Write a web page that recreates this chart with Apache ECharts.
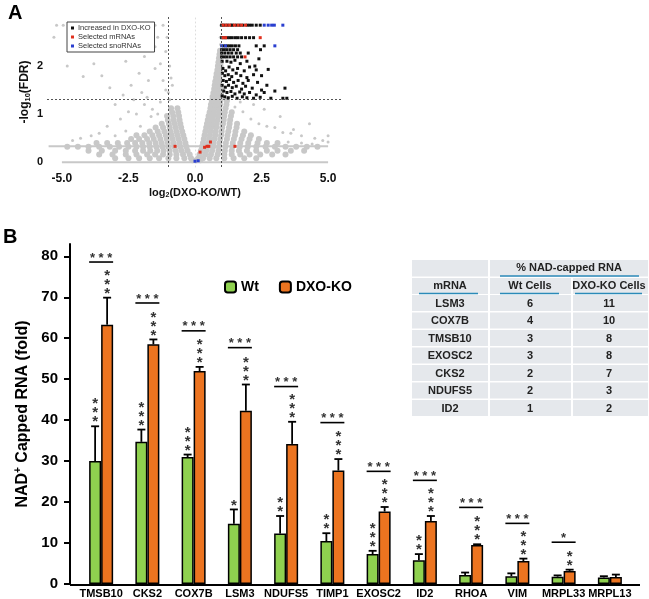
<!DOCTYPE html>
<html><head><meta charset="utf-8">
<script src="https://cdn.jsdelivr.net/npm/echarts@6/dist/echarts.min.js"></script>
<style>html,body{margin:0;padding:0;background:#fff}#c{width:649px;height:599px}</style>
</head><body><div id="c"></div>
<script>
// ================= Panel A : volcano plot =================
const volcanoXTicks = [-5, -2.5, 0, 2.5, 5];
const volcanoYTicks = [0, 1, 2];
const fcCutoffs = [-1, 1];
const fdrCutoff = 1.3;
// dense gray rows: [y, [x...]]
const grayCoreRows = [
 [0.04, [-0.1,0.05,0.2]],
 [0.08, [-0.15,-0.4,-0.7,-1.0,-1.35,-1.7,-2.1,-2.5,-3.0,0.12,0.3,0.55,0.8,1.1,1.45,1.85,2.3]],
 [0.16, [-0.2,-0.45,-0.7,-0.95,-1.2,-1.5,-1.8,-2.2,-2.6,-3.1,-3.6,0.17,0.38,0.6,0.85,1.1,1.38,1.7,2.05,2.45,2.9,3.4]],
 [0.24, [-0.28,-0.5,-0.72,-0.95,-1.18,-1.42,-1.68,-1.95,-2.25,-2.6,-3.0,-3.5,-4.0,0.22,0.42,0.64,0.88,1.12,1.38,1.65,1.95,2.3,2.7,3.1,3.6,4.1]],
 [0.32, [-0.32,-0.55,-0.78,-1.0,-1.22,-1.45,-1.7,-1.95,-2.2,-2.5,-2.85,-3.2,-3.6,-4.0,-4.4,-4.8,0.26,0.46,0.68,0.9,1.14,1.4,1.68,1.98,2.3,2.65,3.0,3.4,3.8,4.2,4.6]],
 [0.40, [-0.36,-0.58,-0.8,-1.02,-1.25,-1.48,-1.72,-1.98,-2.25,-2.55,-2.9,-3.3,-3.7,0.3,0.5,0.7,0.92,1.16,1.42,1.7,2.0,2.35,2.7,3.1]],
 [0.48, [-0.4,-0.62,-0.84,-1.06,-1.3,-1.55,-1.8,-2.1,-2.4,0.33,0.53,0.73,0.95,1.2,1.46,1.75,2.05,2.4]],
 [0.56, [-0.44,-0.66,-0.88,-1.1,-1.35,-1.6,-1.9,-2.2,0.36,0.56,0.76,0.98,1.22,1.5,1.8,2.1]],
 [0.64, [-0.48,-0.7,-0.92,-1.15,-1.4,-1.7,0.39,0.58,0.78,1.0,1.25,1.52,1.85]],
 [0.72, [-0.52,-0.73,-0.95,-1.2,-1.48,0.42,0.61,0.8,1.02,1.28,1.56]],
 [0.80, [-0.55,-0.76,-0.98,-1.25,0.45,0.63,0.82,1.05,1.3,1.58]],
 [0.88, [-0.58,-0.8,-1.02,0.48,0.66,0.85,1.08,1.32]],
 [0.96, [-0.6,-0.82,-1.05,0.51,0.69,0.88,1.1,1.35]],
 [1.04, [-0.63,-0.86,0.55,0.72,0.9,1.12,1.38]],
 [1.12, [-0.66,-0.9,0.58,0.75,0.92,1.15]],
 [1.20, [0.6,0.77,0.94,1.18]],
 [1.28, [0.63,0.8,0.96,1.2]],
 [1.36, [0.66,0.82,0.97]],
 [1.44, [0.69,0.84,0.98]],
 [1.52, [0.72,0.86,0.98]],
 [1.60, [0.74,0.88]],
 [1.68, [0.76,0.9]],
 [1.76, [0.79,0.92]],
 [1.84, [0.81,0.93]],
 [1.92, [0.84,0.95]],
 [2.00, [0.86,0.96]],
 [2.08, [0.88,0.97]],
 [2.16, [0.9]],
 [2.24, [0.92]],
 [2.32, [0.94]]
];
const graySparse = [
 [-0.95,1.3],[-1.0,1.45],[-0.85,1.6],[-0.9,1.75],[-1.1,1.5],[-1.3,1.25],[-1.6,1.1],[-1.9,1.2],[-2.2,1.0],[-2.5,1.05],
 [-2.8,0.9],[-2.0,1.45],[-2.4,1.6],[-1.75,1.7],[-1.5,1.95],[-2.1,1.85],[-2.7,1.4],[-3.0,1.2],[-3.3,0.75],[-3.6,0.6],
 [-3.9,0.55],[-4.3,0.5],[-4.6,0.45],[-3.2,1.55],[-3.5,1.8],[-4.2,1.78],[-4.8,2.0],[-1.3,2.05],[-1.1,2.3],[-1.5,2.4],
 [-1.05,2.6],[-1.4,2.6],[-1.2,2.85],[-1.5,2.85],[-5.2,2.85],[-4.95,2.85],[-5.3,2.6],[-1.9,2.2],[-2.6,2.1],[-3.8,2.05],
 [-0.95,2.0],[-1.2,1.7],[-1.8,1.35],[-2.3,1.3],[-1.65,0.95],[-2.05,0.75],[-2.6,0.65],[-3.0,0.55],[-1.4,1.0],
 [1.5,1.15],[1.8,1.05],[2.1,0.9],[2.4,0.8],[2.7,0.75],[3.0,0.72],[3.3,0.62],[3.6,0.6],[4.0,0.55],[4.5,0.5],[4.8,0.45],
 [3.2,0.95],[3.7,0.68],[2.2,1.2],[1.7,1.25],[2.6,1.1],[4.3,0.8],[5.0,0.42],[5.0,0.55],[3.5,0.42],[4.0,0.4],[4.4,0.38],
 [0.97,2.85],[0.95,2.6],[0.96,2.45]
];
const grayZeroRow = [[-5,0],[5,0]];
const grayBandRow = [[-5.5,0.33],[5,0.33]];
const increasedKO = [
 [1.0,2.85],[1.1,2.85],[1.22,2.85],[1.35,2.85],[1.42,2.85],[1.55,2.85],[1.68,2.85],[1.8,2.85],[1.95,2.85],[2.05,2.85],[2.15,2.85],[2.3,2.85],[2.45,2.85],
 [1.0,2.59],[1.1,2.59],[1.2,2.59],[1.3,2.59],[1.4,2.59],[1.52,2.59],[1.62,2.59],[1.75,2.59],[1.9,2.59],[2.05,2.59],[2.2,2.59],
 [1.08,2.42],[1.2,2.42],[1.3,2.42],[1.4,2.42],[1.52,2.42],[1.65,2.42],[2.3,2.42],[2.6,2.42],
 [1.0,2.34],[1.1,2.34],[1.2,2.34],[1.32,2.34],[1.45,2.34],[1.6,2.34],[2.46,2.34],
 [1.0,2.27],[1.12,2.27],[1.25,2.27],[1.38,2.27],[1.55,2.27],[1.7,2.27],[2.0,2.27],
 [1.0,2.19],[1.1,2.19],[1.2,2.19],[1.32,2.19],[1.45,2.19],[1.6,2.19],[1.75,2.19],
 [1.02,2.1],[1.2,2.1],[1.35,2.08],[1.5,2.12],[1.7,2.05],[1.95,2.1],[2.25,2.0],[2.4,2.15],
 [1.05,1.95],[1.15,1.9],[1.28,1.98],[1.42,1.92],[1.6,1.95],[1.85,1.9],[2.05,1.98],[2.3,1.92],[2.75,1.93],
 [1.03,1.85],[1.12,1.8],[1.25,1.82],[1.38,1.78],[1.55,1.85],[1.72,1.8],[1.95,1.76],[2.2,1.82],[2.5,1.8],
 [1.06,1.7],[1.18,1.68],[1.3,1.72],[1.45,1.66],[1.62,1.7],[1.8,1.64],[2.0,1.7],[2.35,1.66],[2.7,1.6],[3.38,1.54],
 [1.02,1.6],[1.14,1.56],[1.26,1.6],[1.4,1.55],[1.55,1.58],[1.75,1.52],[1.9,1.58],[2.15,1.54],[2.5,1.5],
 [1.08,1.48],[1.2,1.45],[1.35,1.47],[1.5,1.42],[1.68,1.46],[1.85,1.42],[2.05,1.45],[2.3,1.4],[2.6,1.45],[3.0,1.48],
 [1.02,1.38],[1.12,1.36],[1.25,1.34],[1.4,1.37],[1.58,1.33],[1.78,1.36],[1.95,1.34],[2.2,1.33],[2.45,1.35],[2.85,1.33],[3.3,1.33],[3.45,1.33]
];
const selectedMRNAs = [
 [-0.75,0.33],[0.19,0.21],[0.36,0.31],[0.45,0.33],[0.52,0.33],[0.58,0.42],[1.5,0.33],
 [1.05,2.85],[1.17,2.85],[1.3,2.85],[1.48,2.85],[1.62,2.85],[1.75,2.85],[1.9,2.85],
 [1.05,2.59],[1.15,2.59],[2.45,2.59],[1.88,2.19]
];
const selectedSnoRNAs = [
 [0.0,0.02],[0.12,0.03],[2.6,2.85],[2.75,2.85],[2.88,2.85],[2.98,2.85],[3.3,2.85],[3.0,2.42],[1.0,2.42],[1.15,2.42]
];

// ================= Panel B : bar chart =================
const categories = ['TMSB10','CKS2','COX7B','LSM3','NDUFS5','TIMP1','EXOSC2','ID2','RHOA','VIM','MRPL33','MRPL13'];
const wtValues = [30.0, 34.7, 31.0, 14.7, 12.3, 10.5, 7.3, 5.8, 2.2, 1.9, 1.8, 1.6];
const wtErrors = [8.5, 3.0, 0.6, 3.5, 4.3, 1.9, 0.8, 1.5, 0.6, 0.7, 0.3, 0.3];
const koValues = [63.3, 58.5, 52.0, 42.3, 34.2, 27.7, 17.7, 15.4, 9.5, 5.6, 3.2, 1.7];
const koErrors = [6.6, 1.2, 1.0, 6.4, 5.4, 2.8, 1.1, 1.2, 0.2, 0.6, 0.3, 0.6];
const wtStars = [3, 3, 3, 1, 2, 2, 3, 2, 0, 0, 0, 0];
const koStars = [3, 3, 3, 3, 3, 3, 3, 3, 3, 3, 2, 0];
const pairLevels = [78.6, 68.6, 61.8, 57.7, 48.2, 39.4, 27.5, 25.3, 18.7, 14.8, 10.2, null];
const pairStars = [3, 3, 3, 3, 3, 3, 3, 3, 3, 3, 1, 0];
const barYTicks = [0, 10, 20, 30, 40, 50, 60, 70, 80];

// table
const tableGenes = ['LSM3','COX7B','TMSB10','EXOSC2','CKS2','NDUFS5','ID2'];
const tableWt = [6, 4, 3, 3, 2, 2, 1];
const tableKO = [11, 10, 8, 8, 7, 3, 2];

// ---------------------------------------------------------
const FONT = 'Liberation Sans, Arial, sans-serif';
const GRAY = '#c8c8c8';
const GREEN = '#8fd14f';
const ORANGE = '#ec7420';
const BAR_W = 12;

const grayCore = [];
grayCoreRows.forEach(r => r[1].forEach(x => grayCore.push([x, r[0]])));

function errRender(side) {
  return function (params, api) {
    const i = api.value(0), lo = api.value(1), hi = api.value(2);
    const p0 = api.coord([i, lo]), p1 = api.coord([i, hi]);
    const x = p0[0] + side * BAR_W / 2;
    return { type: 'group', children: [
      { type: 'line', shape: { x1: x, y1: p0[1], x2: x, y2: p1[1] }, style: { stroke: '#000', lineWidth: 1.8 } },
      { type: 'line', shape: { x1: x - 4, y1: p1[1], x2: x + 4, y2: p1[1] }, style: { stroke: '#000', lineWidth: 1.8 } }
    ]};
  };
}
function starRender(side) {
  return function (params, api) {
    const i = api.value(0), top = api.value(1), n = api.value(2);
    const p = api.coord([i, top]);
    const x = p[0] + side * BAR_W / 2;
    const ch = [];
    for (let k = 0; k < n; k++) {
      ch.push({ type: 'text', x: x, y: p[1] - 4 - 9 * k,
        style: { text: '*', fontSize: 15, fontWeight: 'bold', fontFamily: FONT, fill: '#333', align: 'center', verticalAlign: 'middle' } });
    }
    return { type: 'group', children: ch };
  };
}
function pairRender(params, api) {
  const i = api.value(0), lvl = api.value(1), n = api.value(2);
  const p = api.coord([i, lvl]);
  const txt = n === 3 ? '* * *' : '*';
  return { type: 'group', children: [
    { type: 'line', shape: { x1: p[0] - BAR_W, y1: p[1], x2: p[0] + BAR_W, y2: p[1] }, style: { stroke: '#000', lineWidth: 1.6 } },
    { type: 'text', x: p[0], y: p[1] - 4, style: { text: txt, fontSize: 13, fontWeight: 'bold', fontFamily: FONT, fill: '#333', align: 'center', verticalAlign: 'middle' } }
  ]};
}

// table graphic
const tCols = [[412, 488], [490, 571], [573, 648]];
const tRowTop = 295, tPitch = 17.5, tRowH = 16;
const CELL = '#e5e8ec', BLUE = '#2b8ab8', TXT = '#222';
const tableEls = [];
function cell(x1, x2, y1, h) { tableEls.push({ type: 'rect', shape: { x: x1, y: y1, width: x2 - x1, height: h }, style: { fill: CELL } }); }
function ttext(t, x, y) { tableEls.push({ type: 'text', x: x, y: y, style: { text: String(t), fontSize: 11, fontWeight: 'bold', fontFamily: FONT, fill: TXT, align: 'center', verticalAlign: 'middle' } }); }
function bline(x1, x2, y) { tableEls.push({ type: 'line', shape: { x1: x1, y1: y, x2: x2, y2: y }, style: { stroke: BLUE, lineWidth: 1.5 } }); }
cell(412, 488, 260, 16.5); cell(490, 648, 260, 16.5);
tCols.forEach(c => cell(c[0], c[1], 278, 16));
ttext('% NAD-capped RNA', 569, 267.5); bline(500, 639, 276);
ttext('mRNA', 450, 285.5); bline(419, 478, 293.5);
ttext('Wt Cells', 530, 285.5); bline(500, 559, 293.5);
ttext('DXO-KO Cells', 609, 285.5); bline(575, 642, 293.5);
tableGenes.forEach((g, r) => {
  const y = tRowTop + r * tPitch;
  tCols.forEach(c => cell(c[0], c[1], y, tRowH));
  ttext(g, 450, y + 8.5); ttext(tableWt[r], 530, y + 8.5); ttext(tableKO[r], 609, y + 8.5);
});

const chart = echarts.init(document.getElementById('c'), null, { renderer: 'canvas' });
const option = {
  animation: false,
  backgroundColor: '#fff',
  textStyle: { fontFamily: FONT },
  grid: [
    { left: 47, right: 306, top: 17, bottom: 432 },
    { left: 78, right: 16, top: 244, bottom: 14 }
  ],
  legend: [
    { data: ['Increased in DXO-KO', 'Selected mRNAs', 'Selected snoRNAs'], orient: 'vertical', left: 67, top: 22,
      itemWidth: 3, itemHeight: 3, itemGap: 1, icon: 'rect', padding: [2, 4, 2, 4], borderColor: '#444', borderWidth: 1,
      backgroundColor: '#fff', selectedMode: false,
      textStyle: { fontSize: 7.5, lineHeight: 8, color: '#333', fontFamily: FONT, padding: [0, 0, 0, -1] } },
    { data: ['Wt', 'DXO-KO'], left: 219, top: 275, itemWidth: 11, itemHeight: 11, itemGap: 20, selectedMode: false,
      textStyle: { fontSize: 14, fontWeight: 'bold', color: '#000', fontFamily: FONT } }
  ],
  xAxis: [
    { type: 'value', gridIndex: 0, min: -5.56, max: 5.56, splitLine: { show: false }, axisTick: { show: false },
      axisLine: { show: false },
      axisLabel: { customValues: volcanoXTicks, formatter: v => v.toFixed(1), fontSize: 12, fontWeight: 'bold', color: '#111', margin: 6 },
      name: 'log{sub|2}(DXO-KO/WT)', nameLocation: 'middle', nameGap: 19,
      nameTextStyle: { fontSize: 11, fontWeight: 'bold', color: '#111', rich: { sub: { fontSize: 7, fontWeight: 'bold', padding: [6, 0, 0, 0] } } } },
    { type: 'category', gridIndex: 1, data: categories, axisLine: { show: false }, axisTick: { show: false },
      axisLabel: { interval: 0, fontSize: 11, fontWeight: 'bold', color: '#000', margin: 4 } }
  ],
  yAxis: [
    { type: 'value', gridIndex: 0, min: -0.1, max: 3.02, splitLine: { show: false }, axisTick: { show: false },
      axisLine: { show: true, lineStyle: { color: '#ddd', type: [1, 3] } },
      axisLabel: { customValues: volcanoYTicks, fontSize: 11, fontWeight: 'bold', color: '#111', margin: 4 },
      name: '-log{sub|10}(FDR)', nameLocation: 'middle', nameGap: 15,
      nameTextStyle: { fontSize: 12, fontWeight: 'bold', color: '#111', rich: { sub: { fontSize: 7.5, fontWeight: 'bold', padding: [6, 0, 0, 0] } } } },
    { type: 'value', gridIndex: 1, min: 0, max: 83, interval: 10, offset: 8, splitLine: { show: false },
      axisLine: { show: true, lineStyle: { color: '#000', width: 2 } },
      axisTick: { show: true, length: 6, lineStyle: { color: '#000', width: 2 } },
      axisLabel: { showMaxLabel: false, fontSize: 15, fontWeight: 'bold', color: '#000', margin: 12 },
      name: 'NAD{sup|+} Capped RNA (fold)', nameLocation: 'middle', nameGap: 38,
      nameTextStyle: { fontSize: 16, fontWeight: 'bold', color: '#000', rich: { sup: { fontSize: 10, fontWeight: 'bold', padding: [0, 0, 8, 0] } } } }
  ],
  series: [
    { type: 'line', name: 'zeroRow', xAxisIndex: 0, yAxisIndex: 0, data: grayZeroRow, symbol: 'none', silent: true,
      lineStyle: { color: GRAY, width: 2 }, z: 1 },
    { type: 'line', name: 'bandRow', xAxisIndex: 0, yAxisIndex: 0, data: grayBandRow, symbol: 'none', silent: true,
      lineStyle: { color: GRAY, width: 2 }, z: 1 },
    { type: 'scatter', name: 'grayCore', xAxisIndex: 0, yAxisIndex: 0, data: grayCore, symbolSize: 6, silent: true,
      itemStyle: { color: GRAY, opacity: 1 }, z: 1,
      markLine: { silent: true, symbol: 'none', label: { show: false }, lineStyle: { color: '#555', type: [2, 2], width: 1 },
        data: [{ xAxis: fcCutoffs[0] }, { xAxis: fcCutoffs[1] }, { yAxis: fdrCutoff }] } },
    { type: 'scatter', name: 'graySparse', xAxisIndex: 0, yAxisIndex: 0, data: graySparse, symbolSize: 3, silent: true,
      itemStyle: { color: GRAY, opacity: 1 }, z: 1 },
    { type: 'scatter', name: 'Increased in DXO-KO', xAxisIndex: 0, yAxisIndex: 0, data: increasedKO, symbol: 'rect', symbolSize: 3,
      itemStyle: { color: '#111', opacity: 1 }, z: 3 },
    { type: 'scatter', name: 'Selected mRNAs', xAxisIndex: 0, yAxisIndex: 0, data: selectedMRNAs, symbol: 'rect', symbolSize: 3,
      itemStyle: { color: '#e0301e', opacity: 1 }, z: 4 },
    { type: 'scatter', name: 'Selected snoRNAs', xAxisIndex: 0, yAxisIndex: 0, data: selectedSnoRNAs, symbol: 'rect', symbolSize: 3,
      itemStyle: { color: '#2a3fd0', opacity: 1 }, z: 4 },

    { type: 'bar', name: 'Wt', xAxisIndex: 1, yAxisIndex: 1, data: wtValues, barWidth: BAR_W, barGap: '0%',
      itemStyle: { color: GREEN, borderColor: '#000', borderWidth: 1.5 } },
    { type: 'bar', name: 'DXO-KO', xAxisIndex: 1, yAxisIndex: 1, data: koValues, barWidth: BAR_W, barGap: '0%',
      itemStyle: { color: ORANGE, borderColor: '#000', borderWidth: 1.5 } },
    { type: 'custom', name: 'wtErr', xAxisIndex: 1, yAxisIndex: 1, renderItem: errRender(-1), z: 5, silent: true,
      data: categories.map((c, i) => [i, wtValues[i], wtValues[i] + wtErrors[i]]) },
    { type: 'custom', name: 'koErr', xAxisIndex: 1, yAxisIndex: 1, renderItem: errRender(1), z: 5, silent: true,
      data: categories.map((c, i) => [i, koValues[i], koValues[i] + koErrors[i]]) },
    { type: 'custom', name: 'wtSig', xAxisIndex: 1, yAxisIndex: 1, renderItem: starRender(-1), z: 5, silent: true,
      data: categories.map((c, i) => [i, wtValues[i] + wtErrors[i], wtStars[i]]) },
    { type: 'custom', name: 'koSig', xAxisIndex: 1, yAxisIndex: 1, renderItem: starRender(1), z: 5, silent: true,
      data: categories.map((c, i) => [i, koValues[i] + koErrors[i], koStars[i]]) },
    { type: 'custom', name: 'pairSig', xAxisIndex: 1, yAxisIndex: 1, renderItem: pairRender, z: 5, silent: true,
      data: categories.map((c, i) => [i, pairLevels[i], pairStars[i]]).filter(d => d[1] !== null) }
  ],
  graphic: [
    { type: 'text', left: 8, top: 3, style: { text: 'A', fontSize: 20, fontWeight: 'bold', fontFamily: FONT, fill: '#000' } },
    { type: 'text', left: 3, top: 227, style: { text: 'B', fontSize: 20, fontWeight: 'bold', fontFamily: FONT, fill: '#000' } },
    { type: 'line', shape: { x1: 70, y1: 585, x2: 640, y2: 585 }, style: { stroke: '#000', lineWidth: 2 } },
    { type: 'group', children: tableEls }
  ]
};
chart.setOption(option);
</script>
</body></html>
